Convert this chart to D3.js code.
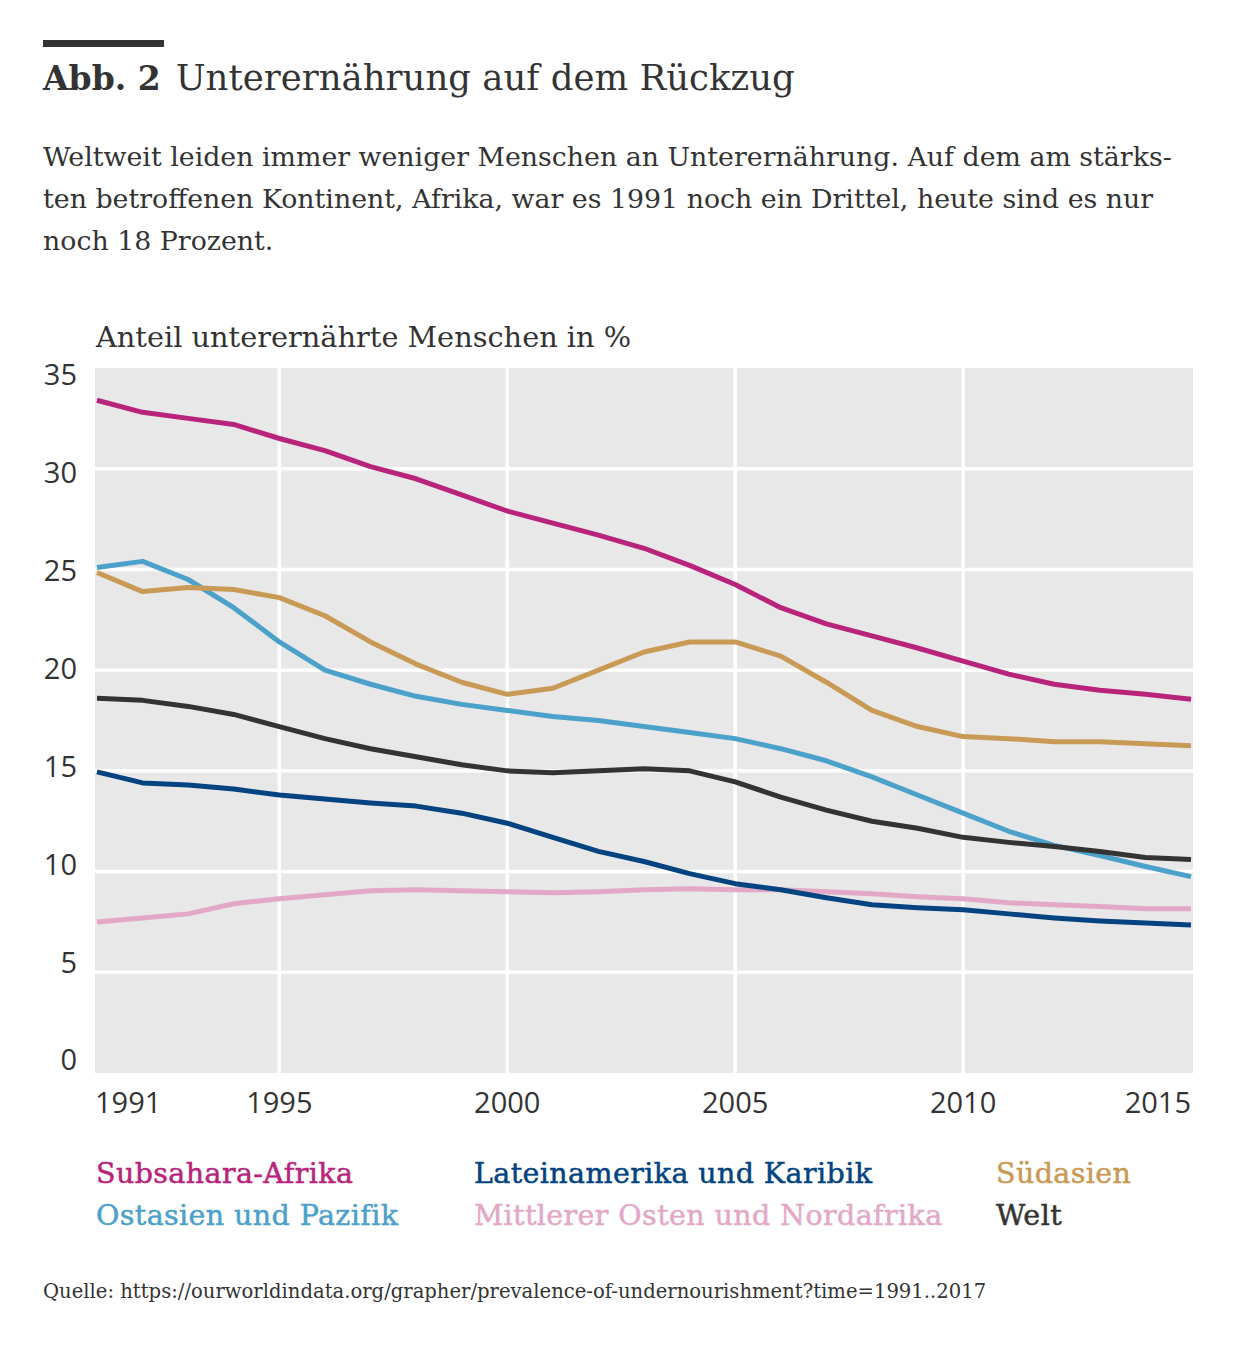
<!DOCTYPE html>
<html>
<head>
<meta charset="utf-8">
<script src="https://cdn.jsdelivr.net/npm/d3@7"></script>
<style>
  body { margin: 0; background: #fff; }
  svg { display: block; }
</style>
</head>
<body>
<div id="chart"></div>
<script>
// Anteil unterernährter Menschen in %, 1991-2015
const years = [1991, 1992, 1993, 1994, 1995, 1996, 1997, 1998, 1999, 2000, 2001, 2002, 2003,
               2004, 2005, 2006, 2007, 2008, 2009, 2010, 2011, 2012, 2013, 2014, 2015];

const subsahara = [33.4, 32.8, 32.5, 32.2, 31.5, 30.9, 30.1, 29.5, 28.7, 27.9, 27.3, 26.7, 26.05,
                   25.2, 24.25, 23.1, 22.3, 21.7, 21.1, 20.45, 19.8, 19.3, 19.0, 18.8, 18.55];
const suedasien = [24.85, 23.9, 24.1, 24.0, 23.6, 22.7, 21.4, 20.3, 19.4, 18.8, 19.1, 20.0, 20.9,
                   21.4, 21.4, 20.7, 19.4, 18.0, 17.2, 16.7, 16.6, 16.45, 16.45, 16.35, 16.25];
const ostasien = [25.1, 25.4, 24.5, 23.1, 21.4, 20.0, 19.3, 18.7, 18.3, 18.0, 17.7, 17.5, 17.2,
                  16.9, 16.6, 16.1, 15.5, 14.7, 13.8, 12.9, 12.0, 11.3, 10.8, 10.25, 9.75];
const welt = [18.6, 18.5, 18.2, 17.8, 17.2, 16.6, 16.1, 15.7, 15.3, 15.0, 14.9, 15.0, 15.1,
              15.0, 14.45, 13.7, 13.05, 12.5, 12.15, 11.7, 11.45, 11.25, 11.0, 10.7, 10.6];
const lateinamerika = [14.95, 14.4, 14.3, 14.1, 13.8, 13.6, 13.4, 13.25, 12.9, 12.4, 11.7, 11.0, 10.5,
                       9.9, 9.4, 9.1, 8.7, 8.35, 8.2, 8.1, 7.9, 7.7, 7.55, 7.45, 7.35];
const nahost = [7.5, 7.7, 7.9, 8.4, 8.65, 8.85, 9.05, 9.1, 9.05, 9.0, 8.95, 9.0, 9.1,
                9.15, 9.1, 9.1, 9.0, 8.9, 8.75, 8.65, 8.45, 8.35, 8.27, 8.15, 8.15];

const seriesNames = ["Subsahara-Afrika", "Ostasien und Pazifik", "Lateinamerika und Karibik",
                     "Mittlerer Osten und Nordafrika", "Südasien", "Welt"];
const seriesValues = [subsahara, ostasien, lateinamerika, nahost, suedasien, welt];
const seriesColors = ["#b8247b", "#4ba1ca", "#03437f", "#e3a8c7", "#c99a55", "#333333"];

const yTicks = [0, 5, 10, 15, 20, 25, 30, 35];
const xTicks = [1991, 1995, 2000, 2005, 2010, 2015];
const xGrid = [1995, 2000, 2005, 2010];

const W = 1241, H = 1350;
const serif = "'DejaVu Serif', serif";
const sans = "'Open Sans', 'Noto Sans', sans-serif";
const ink = "#333333";

const svg = d3.select("#chart").append("svg")
    .attr("width", W)
    .attr("height", H);

svg.append("rect").attr("width", W).attr("height", H).attr("fill", "#fff");

// Kopf
svg.append("rect")
    .attr("x", 43).attr("y", 40)
    .attr("width", 121).attr("height", 7)
    .attr("fill", ink);

const title = svg.append("text")
    .attr("x", 43).attr("y", 90)
    .attr("fill", ink)
    .style("font-family", serif);
title.append("tspan").attr("font-weight", "bold").style("font-size", "33px").text("Abb. 2");
title.append("tspan").attr("dx", 15).style("font-size", "35.5px").text("Unterernährung auf dem Rückzug");

const subtitle = [
    "Weltweit leiden immer weniger Menschen an Unterernährung. Auf dem am stärks-",
    "ten betroffenen Kontinent, Afrika, war es 1991 noch ein Drittel, heute sind es nur",
    "noch 18 Prozent."
];
svg.append("g").selectAll("text")
    .data(subtitle)
    .join("text")
    .attr("x", 43)
    .attr("y", (d, i) => 166 + i * 42)
    .attr("fill", ink)
    .style("font-family", serif)
    .style("font-size", "26.8px")
    .text(d => d);

// Diagramm
const plot = { left: 95, right: 1193, top: 368, bottom: 1073 };

const x = d3.scaleLinear()
    .domain([1991, 2015])
    .range([plot.left + 2, plot.right - 2]);

const y = d3.scaleLinear()
    .domain([0, 35])
    .range([plot.bottom, plot.top]);

// Beschriftungen der y-Achse sitzen im Original etwas gestaucht
const yLabel = d3.scaleLinear()
    .domain([0, 35])
    .range([1060, 375]);

svg.append("text")
    .attr("x", 96).attr("y", 347)
    .attr("fill", ink)
    .style("font-family", serif)
    .style("font-size", "28.8px")
    .text("Anteil unterernährte Menschen in %");

svg.append("rect")
    .attr("x", plot.left).attr("y", plot.top)
    .attr("width", plot.right - plot.left)
    .attr("height", plot.bottom - plot.top)
    .attr("fill", "#e8e8e8");

const grid = svg.append("g").attr("stroke", "#fff").attr("stroke-width", 3.5);
grid.selectAll("line.h")
    .data(yTicks.filter(d => d > 0 && d < 35))
    .join("line")
    .attr("class", "h")
    .attr("x1", plot.left).attr("x2", plot.right)
    .attr("y1", d => y(d)).attr("y2", d => y(d));
grid.selectAll("line.v")
    .data(xGrid)
    .join("line")
    .attr("class", "v")
    .attr("x1", d => x(d)).attr("x2", d => x(d))
    .attr("y1", plot.top).attr("y2", plot.bottom);

svg.append("g").selectAll("text")
    .data(yTicks)
    .join("text")
    .attr("x", 77)
    .attr("y", d => yLabel(d))
    .attr("dy", "0.36em")
    .attr("text-anchor", "end")
    .attr("fill", ink)
    .style("font-family", sans)
    .style("font-size", "29px")
    .text(d => d);

svg.append("g").selectAll("text")
    .data(xTicks)
    .join("text")
    .attr("x", d => d === 1991 ? plot.left : d === 2015 ? plot.right - 2 : x(d))
    .attr("y", 1103)
    .attr("dy", "0.36em")
    .attr("text-anchor", d => d === 1991 ? "start" : d === 2015 ? "end" : "middle")
    .attr("fill", ink)
    .style("font-family", sans)
    .style("font-size", "29px")
    .text(d => d);

const line = d3.line()
    .x((d, i) => x(years[i]))
    .y(d => y(d));

// Zeichenreihenfolge wie im Original: Nahost unten, Subsahara oben
const drawOrder = [3, 2, 1, 5, 4, 0];
svg.append("g")
    .attr("fill", "none")
    .attr("stroke-width", 5)
    .attr("stroke-linejoin", "round")
    .selectAll("path")
    .data(drawOrder)
    .join("path")
    .attr("stroke", i => seriesColors[i])
    .attr("d", i => line(seriesValues[i]));

// Legende
const legendX = [96, 474, 996];
svg.append("g").selectAll("text")
    .data(seriesNames)
    .join("text")
    .attr("x", (d, i) => legendX[Math.floor(i / 2)])
    .attr("y", (d, i) => 1183 + (i % 2) * 42)
    .attr("fill", (d, i) => seriesColors[i])
    .attr("stroke", (d, i) => seriesColors[i])
    .attr("stroke-width", 0.5)
    .style("font-family", serif)
    .style("font-size", "28.5px")
    .style("letter-spacing", "0.4px")
    .text(d => d);

svg.append("text")
    .attr("x", 43).attr("y", 1298)
    .attr("fill", ink)
    .style("font-family", serif)
    .style("font-size", "19.6px")
    .text("Quelle: https://ourworldindata.org/grapher/prevalence-of-undernourishment?time=1991..2017");
</script>
</body>
</html>
